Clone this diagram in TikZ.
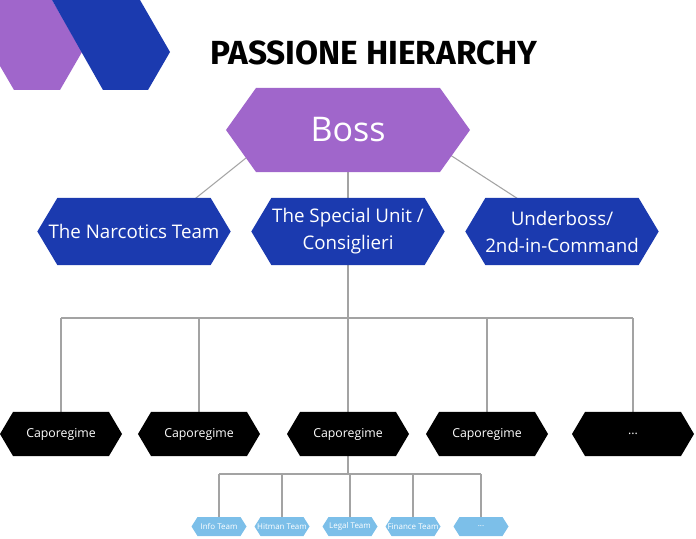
\documentclass[tikz,border=0pt]{standalone}
\usepackage{fontspec}
\setmainfont{Open Sans}
\newfontfamily\titlefont{Fira Sans}
\usetikzlibrary{backgrounds}
\definecolor{bossviolet}{HTML}{A066CB}
\definecolor{unitblue}{HTML}{1B3AAF}
\definecolor{teamblue}{HTML}{7CBFE9}
\definecolor{linkgray}{HTML}{A3A3A3}

\begin{document}
\begin{tikzpicture}[
    x=0.03cm, y=0.03cm,
    hexa/.style 2 args={path picture={\fill[#1] (path picture bounding box.west) -- ([shift={(#2,0)}]path picture bounding box.north west) -- ([shift={(-#2,0)}]path picture bounding box.north east) -- (path picture bounding box.east) -- ([shift={(-#2,0)}]path picture bounding box.south east) -- ([shift={(#2,0)}]path picture bounding box.south west) -- cycle;}},
    boss/.style={hexa={bossviolet}{30}, minimum width=7.32cm, minimum height=2.52cm, inner sep=0pt, outer sep=0pt, text=white, font=\fontsize{29}{34}\selectfont},
    branch/.style={hexa={unitblue}{20}, minimum width=5.8cm, minimum height=2.01cm, inner sep=0pt, outer sep=0pt, text=white, align=center, font=\fontsize{16}{23}\selectfont},
    capo/.style={hexa={black}{13}, minimum width=3.66cm, minimum height=1.32cm, inner sep=0pt, outer sep=0pt, text=white, font=\fontsize{10.5}{12}\selectfont},
    team/.style={hexa={teamblue}{6}, minimum width=1.65cm, minimum height=0.57cm, inner sep=0pt, outer sep=0pt, text=white, font=\fontsize{6.8}{8}\selectfont},
    link/.style={draw=linkgray, line width=0.9pt}
]
\useasboundingbox (0,0) rectangle (696,-539);

% Corner decoration
\fill[bossviolet] (0,0) -- (52,0) -- (82,-52) -- (60,-90) -- (14,-90) -- (0,-66) -- cycle;
\fill[unitblue] (52,0) -- (140,0) -- (170,-52) -- (148,-90) -- (103,-90) -- cycle;

% Title
\node[font=\titlefont\bfseries\fontsize{28.5}{34}\selectfont] (title) at (374,-53) {PASSIONE HIERARCHY};

% Top levels
\node[boss] (boss) at (348,-130) {Boss};
\node[branch] (narc) at (134,-231.5) {The Narcotics Team};
\node[branch] (special) at (348,-231.5) {The Special Unit /\\Consiglieri};
\node[branch] (under) at (562,-231.5) {Underboss/\\2nd-in-Command};

% Caporegimes
\node[capo] (cap1) at (61,-434) {Caporegime};
\node[capo] (cap2) at (199,-434) {Caporegime};
\node[capo] (cap3) at (348,-434) {Caporegime};
\node[capo] (cap4) at (487,-434) {Caporegime};
\node[capo] (cap5) at (633,-434) {...};

% Teams
\node[team] (info) at (219,-526.5) {Info Team};
\node[team] (hitman) at (282,-526.5) {Hitman Team};
\node[team] (legal) at (350,-526.5) {Legal Team};
\node[team] (finance) at (413,-526.5) {Finance Team};
\node[team] (more) at (481,-526.5) {...};

\coordinate (bus) at (348,-318);
\coordinate (teambus) at (348,-474);

% Connectors behind the boxes
\begin{pgfonlayer}{background}
\draw[link] ([shift={(-52,12)}]boss.center) -- ([shift={(52,25.5)}]narc.center);
\draw[link] (boss.center) -- (special.center);
\draw[link] ([shift={(45,12)}]boss.center) -- ([shift={(-33,25.5)}]under.center);
\draw[link] (special.center) -- (cap3.center);
\draw[link] (cap1.center |- bus) -- (cap5.center |- bus);
\draw[link] (cap1.center) -- (cap1.center |- bus);
\draw[link] (cap2.center) -- (cap2.center |- bus);
\draw[link] (cap4.center) -- (cap4.center |- bus);
\draw[link] (cap5.center) -- (cap5.center |- bus);
\draw[link] (cap3.center) -- (cap3.center |- teambus);
\draw[link] (info.center |- teambus) -- (more.center |- teambus);
\draw[link] (info.center) -- (info.center |- teambus);
\draw[link] (hitman.center) -- (hitman.center |- teambus);
\draw[link] (legal.center) -- (legal.center |- teambus);
\draw[link] (finance.center) -- (finance.center |- teambus);
\draw[link] (more.center) -- (more.center |- teambus);
\end{pgfonlayer}

\end{tikzpicture}
\end{document}
